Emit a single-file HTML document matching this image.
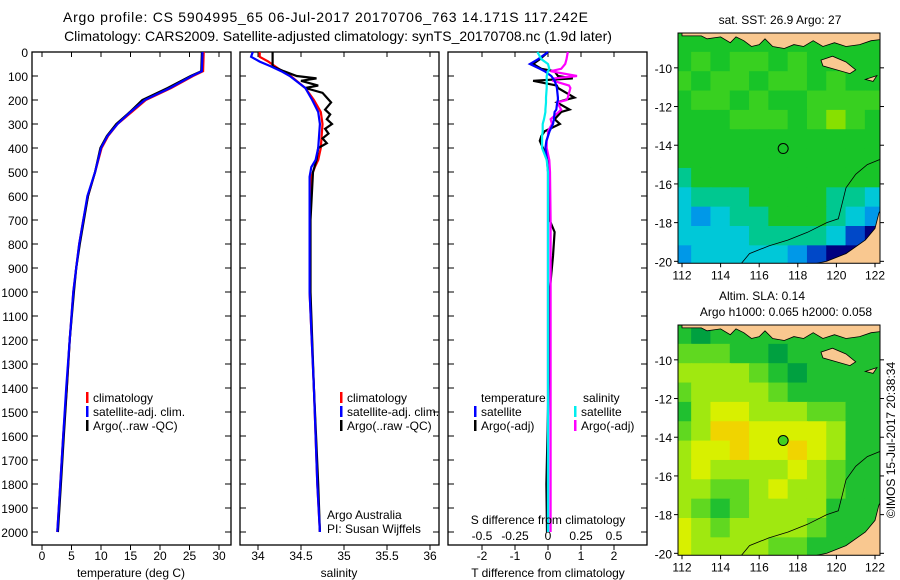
<!DOCTYPE html>
<html><head><meta charset="utf-8"><style>
body{margin:0;background:#fff}
svg{display:block;font-family:"Liberation Sans",sans-serif}
</style></head><body>
<svg id="s" width="900" height="580" viewBox="0 0 900 580">
<text x="63" y="22" font-size="14" textLength="525" lengthAdjust="spacing">Argo profile: CS 5904995_65 06-Jul-2017 20170706_763 14.171S 117.242E</text>
<text x="338" y="41" font-size="14" text-anchor="middle">Climatology: CARS2009. Satellite-adjusted climatology: synTS_20170708.nc (1.9d later)</text>
<text x="780" y="24" font-size="12" text-anchor="middle">sat. SST: 26.9 Argo: 27</text>
<text x="762" y="300" font-size="12" text-anchor="middle">Altim. SLA: 0.14</text>
<text x="786" y="316" font-size="12" text-anchor="middle">Argo h1000: 0.065 h2000: 0.058</text>
<text transform="translate(895,440) rotate(-90)" font-size="12" text-anchor="middle">©IMOS 15-Jul-2017 20:38:34</text>
</svg>
<script>
// ---------- data ----------
const depthTicks=[0,100,200,300,400,500,600,700,800,900,1000,1100,1200,1300,1400,1500,1600,1700,1800,1900,2000];
const tempTicks=[0,5,10,15,20,25,30];
const salTicks=[34,34.5,35,35.5,36];
const tdiffTicks=[-2,-1,0,1,2];
const sdiffTicks=[-0.5,-0.25,0,0.25,0.5];
const tDepth=[0,80,100,150,200,250,300,350,400,500,600,700,800,900,1000,1200,1400,1600,1800,2000];
const tClim=[27.4,27.3,25.6,21.9,17.6,15.2,12.8,11.2,10.1,9.0,7.8,7.0,6.3,5.8,5.3,4.7,4.2,3.6,3.1,2.6];
const tSat=[27.2,27.1,25.4,21.7,17.4,15.0,12.8,11.1,10.0,9.0,7.7,7.0,6.3,5.8,5.3,4.7,4.1,3.6,3.1,2.6];
const tArgo=[27.1,27.0,25.2,21.3,17.0,14.9,12.6,11.0,9.9,9.0,7.8,7.1,6.4,5.8,5.4,4.7,4.2,3.7,3.2,2.7];
const sDepth=[0,20,40,60,80,100,150,200,250,300,400,450,480,520,700,1000,1400,1800,2000];
const sClim=[34.02,34.02,34.12,34.2,34.28,34.38,34.55,34.65,34.73,34.75,34.73,34.7,34.66,34.62,34.6,34.6,34.65,34.69,34.72];
const sSat=[33.94,33.92,34.02,34.15,34.27,34.37,34.55,34.63,34.7,34.72,34.7,34.67,34.62,34.6,34.6,34.6,34.65,34.69,34.72];
const aDepth=[0,60,80,100,110,120,140,150,170,190,210,240,260,280,300,320,340,360,380,400,450,500,700,1000,1400,1800,2000];
const sArgo=[34.17,34.17,34.3,34.45,34.68,34.5,34.7,34.55,34.75,34.8,34.85,34.78,34.84,34.8,34.86,34.78,34.82,34.75,34.8,34.7,34.68,34.64,34.61,34.61,34.65,34.7,34.72];
const dDepth=[0,30,50,70,80,100,110,120,140,150,190,200,210,240,250,280,300,330,350,370,400,450,500,700,750,850,1000,1500,1800,2000];
const dTsat=[0,-0.3,-0.55,-0.25,-0.1,0.1,0.15,0.2,0.25,0.27,0.3,0.3,0.28,0.25,0.2,0.18,0.15,0.05,0,-0.05,-0.08,-0.03,0,0,0,0,0,0,0,0];
const dTargo=[0,-0.25,-0.45,-0.2,0.2,0.3,0.75,-0.45,0.27,0.3,0.8,0.5,0.27,0.65,0.4,0.2,0.36,-0.1,-0.2,-0.25,-0.15,0,0.05,0.05,0.2,0.15,0.05,0,-0.05,-0.03];
const dSsat=[-0.08,-0.05,0.0,0.01,0.0,-0.01,-0.01,-0.01,-0.01,-0.01,-0.015,-0.015,-0.015,-0.02,-0.02,-0.03,-0.04,-0.04,-0.045,-0.045,-0.045,-0.01,0,0,0,0,0,0,0,0];
const dSargo=[0.15,0.14,0.13,0.1,0.02,0.22,0.05,0.04,0.16,0.17,0.15,0.14,0.07,0.1,0.08,0.02,0.03,0.0,0.0,-0.01,-0.01,0.01,0.015,0.02,0.02,0.02,0.02,0.02,0.02,0.02];
const mapLats=[-8,-9,-10,-11,-12,-13,-14,-15,-16,-17,-18,-19];
const mapLons=[112,113,114,115,116,117,118,119,120,121,122];
const sstPalette=['#000080','#0048c8','#0098e8','#00c8d8','#00c890','#18c428','#38d020','#88e000','#e0f000'];
const sstGrid=[
[5,5,5,5,5,5,5,5,5,5,5],[5,6,5,6,6,5,6,5,5,5,5],[6,5,6,6,5,6,6,5,6,5,5],[5,6,6,5,6,5,5,6,6,6,6],
[5,5,5,6,6,6,5,6,7,6,5],[5,5,5,5,5,5,5,5,5,5,5],[5,5,5,5,5,5,5,5,5,5,5],[4,5,5,5,5,5,5,5,5,5,5],
[3,4,4,4,5,5,5,5,4,4,3],[3,2,3,4,4,5,5,5,4,3,2],[3,3,3,3,4,4,4,4,3,1,0],[2,3,3,3,3,3,2,1,0,0,0]];
const slaPalette=['#00a040','#20c030','#60d820','#a0e810','#d8f000','#f0d400'];
const slaGrid=[
[1,0,1,1,1,1,1,1,1,1,1],[2,2,2,1,1,0,1,1,1,1,1],[3,3,3,3,2,1,0,1,1,1,1],[2,3,3,3,3,2,1,1,1,1,1],
[1,3,4,4,3,3,3,2,2,1,1],[2,3,5,5,4,4,4,4,3,1,1],[3,4,4,5,4,4,5,4,3,1,1],[3,4,3,3,3,3,4,3,2,1,1],
[3,3,2,2,3,4,3,3,2,1,1],[3,2,1,2,3,3,3,3,1,1,1],[4,3,2,3,3,3,3,2,1,1,1],[4,3,3,3,3,2,2,1,1,1,1]];
const mapLonTicks=[112,114,116,118,120,122];
const mapLatTicks=[-10,-12,-14,-16,-18,-20];
const argoPos=[117.242,-14.171];
// ---------- helpers ----------
const NS='http://www.w3.org/2000/svg', S=document.getElementById('s');
function mk(t,a,p){const e=document.createElementNS(NS,t);for(const k in a)e.setAttribute(k,a[k]);(p||S).appendChild(e);return e;}
function txt(x,y,s,sz,anc,p){const e=mk('text',{x:x,y:y,'font-size':sz||12,'text-anchor':anc||'middle'},p);e.textContent=s;return e;}
const Y0=52,PY=0.24,BOT=545;
const yD=d=>Y0+d*PY;
const xT=v=>42+v*5.9, xS=v=>258+(v-34)*86, xTD=v=>548+v*33, xSD=v=>548+v*132;
function line(xs,ys,fx,col,w,name){const pts=xs.map((v,i)=>fx(v).toFixed(1)+','+yD(ys[i]).toFixed(1)).join(' ');
 const e=mk('polyline',{points:pts,fill:'none',stroke:col,'stroke-width':w});
 
 }
function panel(x0,name){const r=mk('rect',{x:x0,y:Y0,width:199,height:BOT-Y0,fill:'none',stroke:'#000','stroke-width':1.3});
 
 
 depthTicks.forEach(d=>{mk('line',{x1:x0,x2:x0+6,y1:yD(d),y2:yD(d),stroke:'#000'});mk('line',{x1:x0+199,x2:x0+193,y1:yD(d),y2:yD(d),stroke:'#000'});});}
function xticks(ticks,fx,labels,y){ticks.forEach(v=>{const x=fx(v);mk('line',{x1:x,x2:x,y1:BOT,y2:BOT+5,stroke:'#000'});mk('line',{x1:x,x2:x,y1:Y0,y2:Y0+5,stroke:'#000'});
 if(labels){const t=txt(x,y,String(v),12);
 
 }});}
depthTicks.forEach(d=>{const t=txt(28,yD(d)+5,String(d),12,'end');
 
 });
panel(32,'temperature-panel');
xticks(tempTicks,xT,true,560);
line(tClim,tDepth,xT,'#f00',2.2,'temp-climatology-line');
line(tArgo,tDepth,xT,'#000',2.2,'temp-argo-line');
line(tSat,tDepth,xT,'#00f',2.2,'temp-satellite-line');
txt(131,577,'temperature (deg C)',12);
panel(240,'salinity-panel');
xticks(salTicks,xS,true,560);
line(sClim,sDepth,xS,'#f00',2.2,'sal-climatology-line');
line(sArgo,aDepth,xS,'#000',2.2,'sal-argo-line');
line(sSat,sDepth,xS,'#00f',2.2,'sal-satellite-line');
txt(339,577,'salinity',12);
txt(327,519,'Argo Australia',12,'start');
txt(327,533,'PI: Susan Wijffels',12,'start');
panel(448,'difference-panel');
xticks(tdiffTicks,xTD,true,560);
sdiffTicks.forEach(v=>{const t=txt(xSD(v),540,String(v),12);
 
 });
line(dTargo,dDepth,xTD,'#000',2.2,'tdiff-argo-line');
line(dSargo,dDepth,xSD,'#f0f',2.2,'sdiff-argo-line');
line(dTsat,dDepth,xTD,'#00f',2.2,'tdiff-satellite-line');
line(dSsat,dDepth,xSD,'#0ee',2.2,'sdiff-satellite-line');
txt(548,524,'S difference from climatology',12);
txt(548,577,'T difference from climatology',12);
function leg(x,y,col,label,name){mk('rect',{x:x,y:y-10,width:2.5,height:11,fill:col});const t=txt(x+7,y,label,12,'start');
 
 }
[[86,'climatology-legend'],[340,'climatology-legend-2']].forEach(([x,n])=>{leg(x,402,'#f00','climatology',n);leg(x,416,'#00f','satellite-adj. clim.','satellite-legend');leg(x,430,'#000','Argo(..raw -QC)','argo-legend');});
txt(481,402,'temperature',12,'start');
txt(583,402,'salinity',12,'start');
leg(474,416,'#00f','satellite','legend-t-satellite');leg(474,430,'#000','Argo(-adj)','legend-t-argo');
leg(574,416,'#0ee','satellite','legend-s-satellite');leg(574,430,'#f0f','Argo(-adj)','legend-s-argo');
// ---------- maps ----------
function drawMap(top,grid,pal,name,dotFill){
 const L=678,W=202;
 const g=mk('g',{});
 
 
 const mx=lon=>682+(lon-112)*19.3, my=lat=>top+(-8.2-lat)*19.35;
 const yb=my(-20.1);
 const cp=mk('clipPath',{id:'c'+name},g);mk('rect',{x:L,y:top,width:W,height:yb-top},cp);
 const gg=mk('g',{'clip-path':'url(#c'+name+')'},g);
 grid.forEach((row,i)=>row.forEach((v,j)=>{const c=mk('rect',{x:mx(mapLons[j]-0.5)-0.5,y:my(mapLats[i]-0.2)-0.5,width:20.3,height:20.4,fill:pal[v]},gg);
  
  }));
 const land=c=>c.map(p=>mx(p[0]).toFixed(1)+','+my(p[1]).toFixed(1)).join(' ');
 const lst={fill:'#f9c890',stroke:'#000','stroke-width':0.8};
 mk('polygon',Object.assign({points:land([[112,-8.2],[112,-8.35],[113,-8.35],[113.3,-8.5],[114,-8.4],[114.5,-8.7],[114.8,-8.4],[115.2,-8.6],[115.6,-8.9],[116,-8.8],[116.3,-8.5],[116.7,-8.9],[117.3,-9.0],[117.8,-8.8],[118.3,-8.9],[118.8,-8.6],[119.3,-8.9],[119.9,-8.7],[120.5,-8.9],[121.2,-8.8],[121.8,-8.6],[122.6,-8.5],[122.6,-7.5],[112,-7.5]])},lst),gg);
 mk('polygon',Object.assign({points:land([[119.2,-9.6],[119.8,-9.4],[120.5,-9.7],[121,-10.1],[120.7,-10.3],[120,-10.1],[119.3,-9.9]])},lst),gg);
 mk('polygon',Object.assign({points:land([[121.5,-10.6],[122.1,-10.4],[121.9,-10.7]])},lst),gg);
 mk('polygon',Object.assign({points:land([[118.5,-20.2],[119.5,-20],[120.5,-19.6],[121.5,-18.9],[122,-18.3],[122.2,-17.5],[122.6,-16.8],[122.7,-20.3]])},lst),gg);
 mk('polyline',{points:land([[115,-20.2],[115.5,-19.6],[116.5,-19.2],[117.5,-18.9],[118.5,-18.5],[119.5,-18.0],[120.1,-17.8],[120.3,-17],[120.5,-16.2],[121,-15.5],[121.6,-15],[122.6,-14.6]]),fill:'none',stroke:'#000','stroke-width':0.8},gg);
 mk('rect',{x:L,y:top,width:W,height:yb-top,fill:'none',stroke:'#000'},g);
 const dot=mk('circle',{cx:mx(argoPos[0]),cy:my(argoPos[1]),r:5,fill:dotFill,stroke:'#000','stroke-width':1},g);
 
 
 mapLonTicks.forEach(v=>{mk('line',{x1:mx(v),x2:mx(v),y1:yb,y2:yb+4,stroke:'#000'},g);const t=txt(mx(v),yb+16,String(v),12,'middle',g);
  
  });
 mapLatTicks.forEach(v=>{mk('line',{x1:L-4,x2:L,y1:my(v),y2:my(v),stroke:'#000'},g);mk('line',{x1:L+W,x2:L+W+4,y1:my(v),y2:my(v),stroke:'#000'},g);const t=txt(L-6,my(v)+5,String(v),12,'end',g);
  
  });
}
drawMap(33,sstGrid,sstPalette,'sst-map','none');
drawMap(325,slaGrid,slaPalette,'sla-map','#40d020');
</script>
</body></html>
